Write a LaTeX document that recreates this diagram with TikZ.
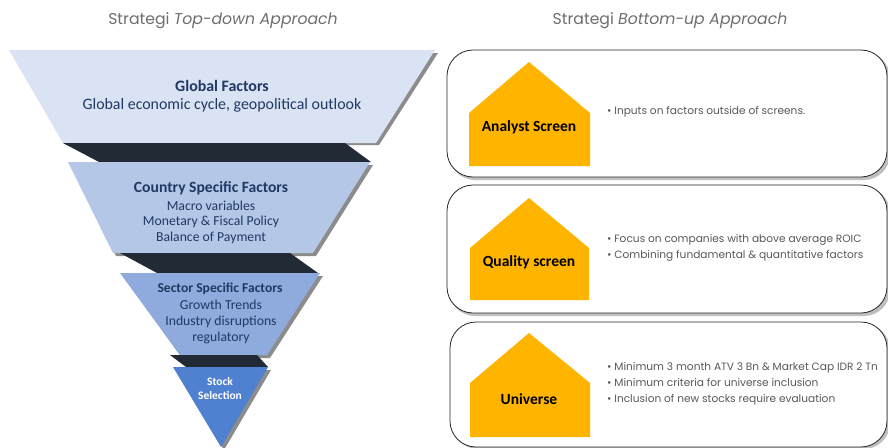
\documentclass[tikz,border=0pt]{standalone}
\usepackage{fontspec}
\setmainfont{Carlito}
\newfontfamily\popfont{Poppins}
\definecolor{tgray}{HTML}{6E6E6E}
\definecolor{bgray}{HTML}{595959}
\definecolor{navy}{HTML}{203864}
\definecolor{fA}{HTML}{DAE3F3}
\definecolor{fB}{HTML}{B4C7E7}
\definecolor{fC}{HTML}{8FAADC}
\definecolor{fD}{HTML}{4F81D0}
\definecolor{dband}{HTML}{222A35}
\definecolor{house}{HTML}{FFB400}
\tikzset{
  shad/.style={fill=black!45},
  band/.style={fill=dband},
  ftitle/.style={font=\fontsize{15.9}{18}\selectfont\bfseries, text=navy, inner sep=0pt},
  fline/.style={font=\fontsize{15.9}{18}\selectfont, text=navy, inner sep=0pt},
  ctitle/.style={font=\fontsize{15.6}{18}\selectfont\bfseries, text=navy, inner sep=0pt},
  stitle/.style={font=\fontsize{13.6}{15}\selectfont\bfseries, text=navy, inner sep=0pt},
  sline/.style={font=\fontsize{13.7}{15}\selectfont, text=navy, inner sep=0pt},
  heading/.style={font=\popfont\fontsize{15.7}{18}\selectfont, text=tgray, inner sep=0pt},
  panel/.style={draw=black!85, line width=0.8pt, rounded corners=26pt, fill=white},
  panelshadow/.style={fill=black!25, rounded corners=26pt},
  housefill/.style={fill=house},
  hlabel/.style={font=\fontsize{15.5}{17}\selectfont\bfseries, text=black, inner sep=0pt},
  bullet/.style={font=\popfont\fontsize{10.6}{16}\selectfont, text=bgray, inner sep=0pt, anchor=west, align=left},
}
\begin{document}
\begin{tikzpicture}[x=1pt,y=-1pt]
\useasboundingbox (0,0) rectangle (888,447);
\fill[white] (0,0) rectangle (888,447);

% headings
\node[heading] (h1) at (223,21) {Strategi \textit{Top-down Approach}};
\node[heading] (h2) at (670,21) {Strategi \textit{Bottom-up Approach}};

% ---------- funnel ----------
% level 1
\fill[shad] (12,53) -- (438,53) -- (379,145) -- (66,145) -- cycle;
\fill[fA] (9,50) -- (435,50) -- (376,143) -- (63,143) -- cycle;
\fill[band] (63,143) -- (345,143) -- (371,162) -- (99,162) -- cycle;
% level 2
\fill[shad] (71,165) -- (373,165) -- (316,256) -- (116,256) -- cycle;
\fill[fB] (68,162) -- (370,162) -- (313,253) -- (113,253) -- cycle;
\fill[band] (120,253) -- (290,253) -- (318,273) -- (157,273) -- cycle;
% level 3
\fill[shad] (123,276) -- (323,276) -- (270,358) -- (182,358) -- cycle;
\fill[fC] (120,273) -- (320,273) -- (267,355) -- (180,355) -- cycle;
\fill[band] (170,355) -- (257,355) -- (268,367) -- (186,367) -- cycle;
% level 4
\fill[shad] (176,370) -- (271,370) -- (224,450) -- cycle;
\fill[fD] (173,367) -- (268,367) -- (221,447) -- cycle;

\node[ftitle] (g1) at (222,86) {Global Factors};
\node[fline] (g2) at (222,105) {Global economic cycle, geopolitical outlook};

\node[ctitle] (c1) at (211,188) {Country Specific Factors};
\node[sline] (c2) at (211,206) {Macro variables};
\node[sline] (c3) at (211,222) {Monetary \& Fiscal Policy};
\node[sline] (c4) at (211,238) {Balance of Payment};

\node[stitle] (s1) at (220,289) {Sector Specific Factors};
\node[sline] (s2) at (221,305) {Growth Trends};
\node[sline] (s3) at (221,322) {Industry disruptions};
\node[sline] (s4) at (221,338) {regulatory};

\node[font=\fontsize{11.5}{14}\selectfont\bfseries, text=white, align=center, inner sep=0pt] (st) at (220,389) {Stock\\Selection};

% ---------- right panels ----------
\fill[panelshadow] (449,52) rectangle (890,180);
\draw[panel] (447,50) rectangle (887,177);
\fill[panelshadow] (449,187) rectangle (890,316);
\draw[panel] (447,185) rectangle (887,313);
\fill[panelshadow] (452,324) rectangle (890,449);
\draw[panel] (450,322) rectangle (887,447);

% houses
\fill[housefill] (469,166) -- (469,113) -- (529,62) -- (590,113) -- (590,166) -- cycle;
\fill[housefill] (470,300) -- (470,248) -- (529,198) -- (589,248) -- (589,300) -- cycle;
\fill[housefill] (470,437) -- (470,383) -- (529,333) -- (590,383) -- (590,437) -- cycle;

\node[hlabel] (a1) at (529,127) {Analyst Screen};
\node[hlabel] (q1) at (529,262) {Quality screen};
\node[hlabel] (u1) at (529,399) {Universe};

\node[bullet] (b1) at (607,112) {\textbullet\ Inputs on factors outside of screens.};
\node[bullet] (b2) at (607,248) {\textbullet\ Focus on companies with above average ROIC\\\textbullet\ Combining fundamental \& quantitative factors};
\node[bullet] (b3) at (607,384) {\textbullet\ Minimum 3 month ATV 3 Bn \& Market Cap IDR 2 Tn\\\textbullet\ Minimum criteria for universe inclusion\\\textbullet\ Inclusion of new stocks require evaluation};
\end{tikzpicture}
\end{document}
